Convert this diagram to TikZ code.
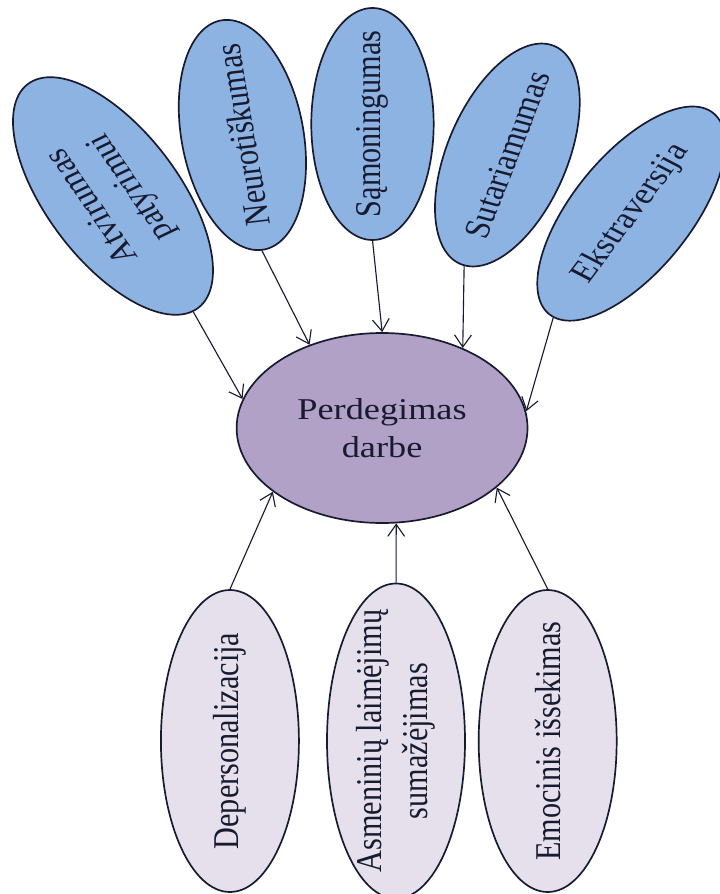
\documentclass[tikz,border=0pt]{standalone}
\usepackage{fontspec}
\setmainfont{Liberation Serif}
\usetikzlibrary{shapes, arrows.meta}
\definecolor{factorblue}{RGB}{141,179,226}
\definecolor{burnviolet}{RGB}{178,161,199}
\definecolor{symptlilac}{RGB}{229,224,236}
\definecolor{inknavy}{RGB}{24,26,48}

\begin{document}
\begin{tikzpicture}[xscale=1.2, every node/.style={transform shape}]
			\tikzstyle{oval}=[ellipse, draw=inknavy, line width=1.2pt, inner xsep=-5mm, inner ysep=0pt, text=inknavy, align=center, font=\fontsize{21.5}{27}\selectfont]
			\tikzstyle{factor}=[oval, fill=factorblue, minimum width=5.8cm, minimum height=2.55cm]
			\tikzstyle{sympt}=[oval, fill=symptlilac, minimum width=7.55cm, minimum height=2.875cm, rotate=90]
			\tikzstyle{link}=[draw=inknavy, line width=0.8pt, -{Straight Barb[length=3mm, width=4.2mm]}]
			\useasboundingbox (0,0) rectangle (15,-22.35);
			%%
			\node (p0) at (7.96,-10.7) [oval, fill=burnviolet, minimum width=6.06cm, minimum height=4.75cm] {Perdegimas\\darbe};
			
			\node (f1) at (2.354,-4.9) [factor, rotate=120, minimum width=6.65cm, minimum height=2.9cm] {Atvirumas\\patyrimui};
			\node (f2) at (5.05,-3.375) [factor, rotate=98] {Neurotiškumas};
			\node (f3) at (7.76,-3.1) [factor, rotate=90] {Sąmoningumas};
			\node (f4) at (10.57,-3.875) [factor, rotate=72] {Sutariamumas};
			\node (f5) at (13.15,-5.34) [factor, rotate=58, minimum width=6.1cm, minimum height=2.6cm] {Ekstraversija};
			
			\node (s1) at (4.79,-18.525) [sympt] {Depersonalizacija};
			\node (s2) at (8.25,-18.525) [sympt] {Asmeninių laimėjimų\\sumažėjimas};
			\node (s3) at (11.41,-18.525) [sympt] {Emocinis išsekimas};
			
			\draw [link] (f1.west) -- (p0.166);
			\draw [link] (f2.west) -- (p0.126);
			\draw [link] (f3.west) -- (p0.90);
			\draw [link] (f4.west) -- (p0.50);
			\draw [link] (f5.west) -- (p0.8);
			
			\draw [link] (s1.east) -- (p0.215);
			\draw [link] (s2.east) -- (p0.277);
			\draw [link] (s3.east) -- (p0.328);
\end{tikzpicture}
\end{document}
